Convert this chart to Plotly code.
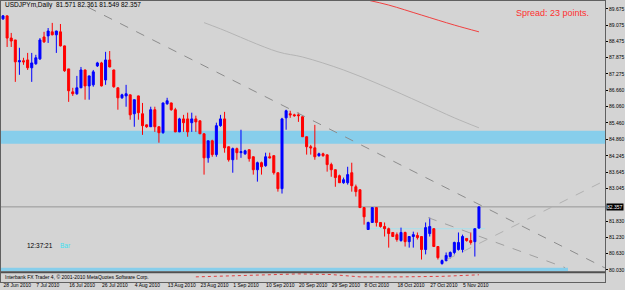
import plotly.graph_objects as go

# ---------------- data ----------------
opens = [89.31, 89.42, 88.60, 88.53, 87.72, 87.76, 87.79, 87.50, 87.65, 87.83,
         88.64, 88.68, 88.83, 88.72, 88.83, 88.31, 87.46, 86.61, 86.54, 86.76,
         87.42, 86.83, 86.87, 87.57, 87.68, 87.05, 87.79, 87.42, 86.76, 86.39,
         86.46, 86.50, 85.80, 86.46, 85.80, 85.39, 85.32, 85.95, 85.32, 85.10,
         86.17, 86.20, 85.95, 85.13, 85.61, 85.61, 85.47, 85.61, 85.54, 85.06,
         84.17, 84.80, 84.29, 85.36, 85.61, 84.58, 84.10, 84.51, 84.36, 84.32,
         84.47, 84.21, 83.73, 83.99, 83.88, 84.21, 84.25, 83.62, 83.03, 85.65,
         85.80, 85.76, 85.76, 85.69, 84.95, 84.58, 84.54, 84.25, 84.32, 84.28,
         83.92, 83.73, 83.51, 83.25, 83.25, 83.62, 83.10, 82.99, 82.33, 81.52,
         81.78, 82.33, 81.78, 81.63, 81.55, 81.41, 81.33, 81.11, 81.41, 81.07,
         81.26, 81.30, 81.26, 80.78, 81.37, 81.55, 80.89, 80.26, 80.37, 80.52,
         80.67, 80.78, 80.78, 81.19, 81.11, 81.07, 81.571]
highs = [89.45, 89.43, 88.79, 88.53, 88.24, 87.87, 88.05, 88.05, 87.98, 88.60,
         88.83, 88.97, 89.16, 88.87, 89.12, 88.32, 87.46, 86.76, 87.20, 87.53,
         87.43, 87.21, 87.42, 87.72, 87.72, 88.09, 88.12, 87.43, 86.77, 86.54,
         86.87, 86.51, 86.33, 86.47, 86.20, 85.40, 86.06, 86.06, 85.33, 86.21,
         86.39, 86.21, 86.02, 85.65, 85.76, 85.84, 85.84, 85.73, 85.55, 85.07,
         84.81, 84.84, 85.47, 85.76, 85.87, 84.59, 84.55, 84.55, 85.21, 84.47,
         84.48, 84.22, 84.03, 84.03, 84.36, 84.36, 84.26, 83.62, 85.65, 85.95,
         85.91, 85.80, 85.84, 85.70, 84.96, 84.65, 85.39, 84.36, 84.36, 84.29,
         83.99, 83.74, 83.55, 83.44, 83.84, 83.99, 83.18, 83.00, 82.34, 81.81,
         82.34, 82.34, 81.79, 81.78, 81.59, 81.42, 81.41, 81.59, 81.44, 81.27,
         81.44, 81.41, 81.27, 81.78, 81.96, 81.56, 80.90, 80.41, 80.67, 80.71,
         81.07, 81.41, 81.33, 81.20, 81.41, 81.56, 82.361]
lows = [89.27, 88.27, 88.27, 86.98, 87.24, 87.61, 87.42, 86.98, 87.61, 87.79,
        88.42, 88.42, 88.70, 88.05, 88.29, 87.35, 86.24, 86.46, 86.50, 86.75,
        86.32, 86.32, 86.80, 87.53, 86.81, 86.87, 87.52, 86.76, 85.95, 86.35,
        86.06, 85.58, 85.32, 85.58, 85.02, 85.28, 85.31, 85.13, 84.73, 85.06,
        86.13, 85.91, 85.12, 85.12, 85.13, 84.95, 85.13, 85.13, 85.05, 83.55,
        83.99, 84.21, 84.21, 85.32, 84.36, 84.03, 83.62, 84.10, 84.17, 84.28,
        84.03, 83.55, 83.29, 83.55, 83.84, 84.15, 83.55, 82.92, 82.85, 85.21,
        85.65, 85.69, 85.50, 84.94, 84.29, 84.29, 84.10, 84.21, 84.21, 83.66,
        83.47, 83.10, 83.24, 83.21, 83.18, 82.92, 82.74, 82.32, 81.70, 81.51,
        81.77, 81.63, 81.59, 81.26, 80.85, 81.25, 81.07, 81.07, 80.89, 80.85,
        80.85, 81.15, 80.41, 80.60, 81.26, 80.88, 80.41, 80.22, 80.34, 80.45,
        80.60, 80.74, 80.67, 81.07, 80.96, 80.52, 81.549]
closes = [89.42, 88.60, 88.49, 87.72, 87.76, 87.72, 87.50, 87.68, 87.87, 88.53,
          88.46, 88.86, 88.72, 88.86, 88.31, 87.39, 86.65, 86.54, 86.76, 87.42,
          86.83, 87.20, 87.35, 87.68, 86.83, 87.79, 87.53, 86.80, 86.39, 86.50,
          86.54, 85.76, 86.32, 85.84, 85.36, 85.32, 85.95, 85.32, 85.10, 86.20,
          86.28, 85.95, 85.13, 85.61, 85.47, 85.13, 85.61, 85.50, 85.06, 84.17,
          84.80, 84.29, 85.36, 85.61, 84.54, 84.10, 84.51, 84.36, 84.40, 84.43,
          84.14, 83.73, 83.99, 83.84, 84.21, 84.17, 83.62, 83.03, 85.61, 85.91,
          85.76, 85.73, 85.73, 84.95, 84.58, 84.54, 84.21, 84.32, 84.25, 83.92,
          83.73, 83.44, 83.25, 83.36, 83.55, 83.14, 82.92, 82.33, 81.99, 81.78,
          82.33, 81.78, 81.63, 81.55, 81.37, 81.26, 81.15, 81.41, 81.07, 81.26,
          81.33, 81.22, 80.78, 81.59, 81.63, 80.89, 80.48, 80.37, 80.56, 80.67,
          81.04, 81.04, 81.26, 81.11, 81.04, 81.55, 82.357]

bars = list(range(len(closes)))

tick_bars = [0, 8, 16, 24, 32, 40, 48, 56, 64, 72, 80, 88, 96, 104, 112]
tick_labels = ["28 Jun 2010", "7 Jul 2010", "16 Jul 2010", "26 Jul 2010",
               "4 Aug 2010", "13 Aug 2010", "23 Aug 2010", "1 Sep 2010",
               "10 Sep 2010", "20 Sep 2010", "29 Sep 2010", "8 Oct 2010",
               "18 Oct 2010", "27 Oct 2010", "5 Nov 2010"]

price_ticks = [89.675, 89.075, 88.475, 87.875, 87.275, 86.660, 86.060, 85.460,
               84.860, 84.245, 83.645, 83.045, 81.830, 81.230, 80.630,
               80.030]

# moving averages (sparse points)
ma_gray_bars = [49, 53, 67, 73, 83, 92, 102, 110, 116]
ma_gray_vals = [89.17, 88.94, 88.09, 87.90, 87.42, 86.87, 86.20, 85.65, 85.28]
ma_red_bars = [89, 94, 102, 110, 116]
ma_red_vals = [90.00, 89.82, 89.45, 89.08, 88.83]

# trend lines
trend_a_bars = [20.7, 146.7]
trend_a_vals = [89.74, 80.10]
trend_b_bars = [103.6, 137.0]
trend_b_vals = [81.96, 80.11]
trend_c_bars = [108.2, 146.7]
trend_c_vals = [80.41, 83.33]

# zones (bar from, bar to, price low, price high)
zone_x0 = [-0.49, 88.7, -0.49]
zone_x1 = [146.72, 117.5, 137.7]
zone_lo = [84.69, 81.53, 79.97]
zone_hi = [85.17, 81.57, 80.11]
zone_col = ["#87CEEB", "#A6E1EE", "#87CEEB"]

# indicator sub-window line
ind_bars = [47, 62, 72, 80, 87, 97, 107, 116]
ind_vals = [0.57, 0.75, 0.90, 0.83, 0.57, 0.57, 0.63, 0.80]

# ---------------- figure ----------------
BG = "#D4D4D4"
FONT = "Liberation Sans, Arial, sans-serif"
W, H = 625, 290
ml, mr, mt, mb = 1, 20, 1, 8
PB = H - mb          # bottom pixel of plotting area (282)
ph = H - mt - mb     # 281
main_bottom = (PB - 271.5) / ph
sub_top = (PB - 273) / ph

fig = go.Figure()

# MAs and trendlines (behind candles)
fig.add_trace(go.Scatter(x=ma_gray_bars, y=ma_gray_vals, mode="lines",
                         line=dict(color="#B4B4B4", width=1, shape="spline"),
                         xaxis="x", yaxis="y", hoverinfo="skip"))
fig.add_trace(go.Scatter(x=ma_red_bars, y=ma_red_vals, mode="lines",
                         line=dict(color="#F04040", width=1, shape="spline"),
                         xaxis="x", yaxis="y", hoverinfo="skip"))
fig.add_trace(go.Scatter(x=trend_a_bars, y=trend_a_vals, mode="lines",
                         line=dict(color="#8C8C8C", width=1, dash="dash"),
                         xaxis="x", yaxis="y", hoverinfo="skip"))
fig.add_trace(go.Scatter(x=trend_b_bars, y=trend_b_vals, mode="lines",
                         line=dict(color="#A0A0A0", width=1, dash="dash"),
                         xaxis="x", yaxis="y", hoverinfo="skip"))
fig.add_trace(go.Scatter(x=trend_c_bars, y=trend_c_vals, mode="lines",
                         line=dict(color="#B0B0B0", width=1, dash="dash"),
                         xaxis="x", yaxis="y", hoverinfo="skip"))

fig.add_trace(go.Candlestick(
    x=bars, open=opens, high=highs, low=lows, close=closes,
    increasing=dict(line=dict(color="#0000FF", width=1), fillcolor="#0000FF"),
    decreasing=dict(line=dict(color="#FF0000", width=1), fillcolor="#FF0000"),
    xaxis="x", yaxis="y", hoverinfo="skip"))

fig.add_trace(go.Scatter(x=ind_bars, y=ind_vals, mode="lines",
                         line=dict(color="#E04040", width=1, dash="dot"),
                         xaxis="x2", yaxis="y2", hoverinfo="skip"))

shapes = []
for x0, x1, lo, hi, c in zip(zone_x0, zone_x1, zone_lo, zone_hi, zone_col):
    shapes.append(dict(type="rect", xref="x", yref="y", x0=x0, x1=x1, y0=lo, y1=hi,
                       fillcolor=c, line=dict(width=0), layer="below"))
# bid line
shapes.append(dict(type="line", xref="paper", yref="y", x0=0, x1=1,
                   y0=closes[-1], y1=closes[-1],
                   line=dict(color="#969696", width=1), layer="below"))
# separator between windows
sep_y = (PB - 272.3) / ph
shapes.append(dict(type="line", xref="paper", yref="paper", x0=0, x1=1,
                   y0=sep_y, y1=sep_y, line=dict(color="#505050", width=2)))


def px_x(p):
    return (p - ml) / (W - ml - mr)


def px_y(p):
    return (PB - p) / ph


annotations = [
    dict(text="USDJPYm,Daily  81.571 82.361 81.549 82.357", xref="paper", yref="paper",
         x=px_x(3), y=px_y(5), xanchor="left", yanchor="middle", showarrow=False,
         font=dict(family=FONT, size=6.5, color="#000000")),
    dict(text="Spread: 23 points.", xref="paper", yref="paper",
         x=px_x(514), y=px_y(12.5), xanchor="left", yanchor="middle", showarrow=False,
         font=dict(family=FONT, size=9, color="#FF3030")),
    dict(text="12:37:21", xref="paper", yref="paper",
         x=px_x(25), y=px_y(245), xanchor="left", yanchor="middle", showarrow=False,
         font=dict(family=FONT, size=6.5, color="#000000")),
    dict(text="Bar", xref="paper", yref="paper",
         x=px_x(58), y=px_y(245), xanchor="left", yanchor="middle", showarrow=False,
         font=dict(family=FONT, size=6.5, color="#40E0F0")),
    dict(text="Interbank FX Trader 4, \u00a9 2001-2010 MetaQuotes Software Corp.",
         xref="paper", yref="paper", x=px_x(3), y=px_y(277),
         xanchor="left", yanchor="middle", showarrow=False,
         font=dict(family=FONT, size=5, color="#000000")),
    dict(text="%.3f" % closes[-1], xref="paper", yref="y", x=1, y=closes[-1],
         xanchor="left", yanchor="middle", showarrow=False, xshift=1,
         bgcolor="#000000", borderpad=0,
         font=dict(family=FONT, size=5, color="#FFFFFF")),
]

xr = [-0.49, 146.72]
fig.update_layout(
    width=W, height=H,
    margin=dict(l=ml, r=mr, t=mt, b=mb, pad=0),
    paper_bgcolor=BG, plot_bgcolor=BG,
    showlegend=False,
    boxgap=0.3,
    xaxis=dict(domain=[0, 1], range=xr, anchor="y", showticklabels=False,
               showgrid=False, zeroline=False, showline=True, mirror=True,
               linecolor="#606060", linewidth=1, ticks="",
               rangeslider=dict(visible=False), fixedrange=True),
    yaxis=dict(domain=[main_bottom, 1], range=[79.967, 89.970], side="right",
               anchor="x", tickvals=price_ticks, tickformat=".3f",
               ticks="outside", ticklen=2, tickcolor="#000000",
               tickfont=dict(family=FONT, size=5, color="#000000"),
               showgrid=False, zeroline=False, showline=True, mirror=True,
               linecolor="#606060", linewidth=1, automargin=False),
    xaxis2=dict(domain=[0, 1], range=xr, anchor="y2", matches="x",
                tickvals=tick_bars, ticktext=tick_labels, tickangle=0,
                ticks="", ticklabelposition="outside right",
                ticklabelstandoff=-2,
                tickfont=dict(family=FONT, size=5, color="#000000"),
                showgrid=False, zeroline=False, showline=True, mirror=True,
                linecolor="#606060", linewidth=1, automargin=False),
    yaxis2=dict(domain=[0, sub_top], range=[0, 1], side="right", anchor="x2",
                showticklabels=False, ticks="", showgrid=False, zeroline=False,
                showline=True, mirror=True, linecolor="#606060", linewidth=1),
    shapes=shapes,
    annotations=annotations,
)

fig.write_html("out.html")
